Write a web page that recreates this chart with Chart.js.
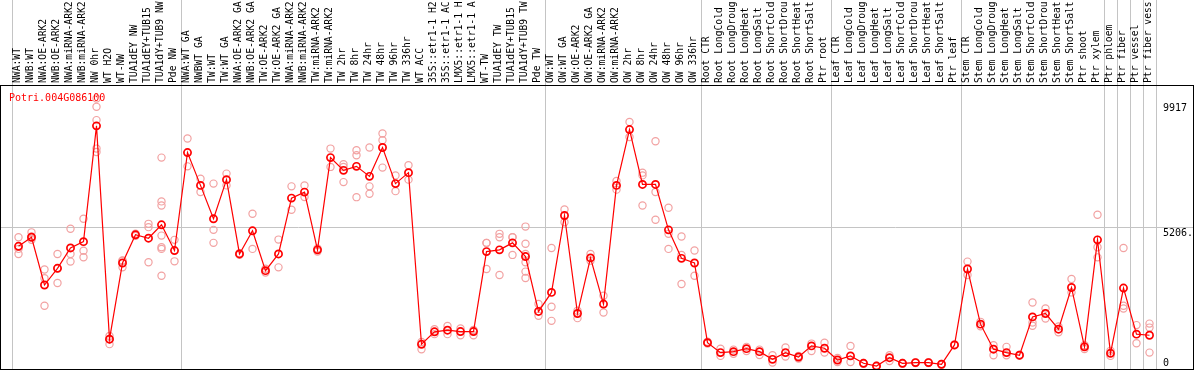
<!DOCTYPE html>
<html>
<head>
<meta charset="utf-8">
<script src="https://cdn.jsdelivr.net/npm/chart.js@4.4.0/dist/chart.umd.min.js"></script>
<style>
	html, body { margin: 0; padding: 0; background: #fff; }
	canvas { display: block; }
</style>
</head>
<body>
<canvas id="myChart" width="1194" height="370"></canvas>
<script>
const geneName = "Potri.004G086100";

const sampleLabels = [
	"NWA:WT", "NWB:WT", "NWA:OE-ARK2", "NWB:OE-ARK2", "NWA:miRNA-ARK2", "NWB:miRNA-ARK2",
	"NW 0hr", "WT H2O", "WT-NW", "TUA1dEY NW", "TUA1dEY+TUB15", "TUA1dY+TUB9 NW", "Pde NW",
	"NWA:WT GA", "NWBWT GA", "TW:WT", "TW:WT GA", "NWA:OE-ARK2 GA", "NWB:OE-ARK2 GA",
	"TW:OE-ARK2", "TW:OE-ARK2 GA", "NWA:miRNA-ARK2", "NWB:miRNA-ARK2", "TW:miRNA-ARK2",
	"TW:miRNA-ARK2", "TW 2hr", "TW 8hr", "TW 24hr", "TW 48hr", "TW 96hr", "TW 336hr",
	"WT ACC", "35S::etr1-1 H2", "35S::etr1-1 AC", "LMX5::etr1-1 H", "LMX5::etr1-1 A",
	"WT-TW", "TUA1dEY TW", "TUA1dEY+TUB15", "TUA1dY+TUB9 TW", "Pde TW",
	"OW:WT", "OW:WT GA", "OW:OE-ARK2", "OW:OE-ARK2 GA", "OW:miRNA-ARK2", "OW:miRNA-ARK2",
	"OW 2hr", "OW 8hr", "OW 24hr", "OW 48hr", "OW 96hr", "OW 336hr",
	"Root CTR", "Root LongCold", "Root LongDroug", "Root LongHeat", "Root LongSalt",
	"Root ShortCold", "Root ShortDrou", "Root ShortHeat", "Root ShortSalt", "Ptr root",
	"Leaf CTR", "Leaf LongCold", "Leaf LongDroug", "Leaf LongHeat", "Leaf LongSalt",
	"Leaf ShortCold", "Leaf ShortDrou", "Leaf ShortHeat", "Leaf ShortSalt", "Ptr leaf",
	"Stem CTR", "Stem LongCold", "Stem LongDroug", "Stem LongHeat", "Stem LongSalt",
	"Stem ShortCold", "Stem ShortDrou", "Stem ShortHeat", "Stem ShortSalt", "Ptr shoot",
	"Ptr xylem", "Ptr phloem", "Ptr fiber", "Ptr vessel", "Ptr fiber vess",
];

const meanValues = [
	4520, 4850, 3105, 3715, 4460, 4690, 8920, 1125, 3910, 4940, 4815, 5305, 4365,
	7945, 6745, 5525, 6955, 4240, 5085, 3630, 4240, 6280, 6500, 4390, 7760, 7295, 7440,
	7075, 8130, 6810, 7210, 940, 1395, 1455, 1405, 1405, 4325, 4390, 4645, 4145, 2140,
	2835, 5645, 2065, 4095, 2410, 6745, 8785, 6780, 6780, 5120, 4080, 3910,
	1000, 635, 670, 780, 670, 390, 635, 475, 880, 795,
	365, 515, 245, 145, 450, 245, 270, 270, 210, 915,
	3690, 1675, 760, 635, 540, 1940, 2065, 1490, 3015, 845,
	4755, 610, 2995, 1310, 1270,
];

const replicateValues = [
	[4850, 4425, 4240], [5030, 4880, 4760], [3670, 3350, 2350], [4240, 3720, 3180],
	[5160, 4240, 3960], [5525, 4360, 4120], [9917, 9615, 9130, 8090, 7965], [1245, 1125, 945],
	[4000, 3990, 3750], [4980, 4900], [5340, 5220, 3935],
	[7760, 6160, 6010, 4910, 4485, 4425, 3445], [4755, 3970],
	[8460, 7440], [6990, 6500], [6810, 5120, 4645], [7175, 6745], [4270, 4210], [5710, 4425],
	[3700, 3560], [4765, 3750], [6710, 5855], [6745, 6320], [4440, 4330], [8090, 7420],
	[7515, 7415, 6865], [8030, 7845, 6315], [8130, 6710, 6440], [8640, 8395, 7395],
	[7110, 6535], [7480, 6955], [1025, 760], [1490, 1310], [1610, 1310], [1515, 1270],
	[1460, 1270], [4645, 4640, 3690], [4975, 4850, 3470], [4850, 4850, 4205],
	[5240, 4610, 4240, 3935, 3595, 3360], [2410, 1980],
	[4460, 2310, 1795], [5865, 5400], [2165, 1895], [4240, 3995], [2715, 2100], [6905, 6590],
	[9065, 8515], [7210, 7110, 6010], [8360, 6500, 5490], [5930, 4975, 4425],
	[4875, 4205, 3140], [4365, 3445],
	[1030, 970], [780, 515], [745, 595], [845, 690], [745, 550], [540, 270], [820, 490],
	[515, 420], [965, 695], [1000, 635],
	[440, 290], [880, 295], [260, 230], [160, 130], [540, 330], [260, 225], [280, 255],
	[285, 255], [220, 195], [930, 900],
	[3960, 3470], [1760, 1600], [905, 540], [845, 540], [560, 520], [2465, 1735, 1615],
	[2245, 1880], [1590, 1380], [3325, 2835], [905, 770],
	[5670, 4485, 4115], [700, 515], [4460, 2345, 2245], [1640, 980], [1695, 1550, 635],
];

// gray separators between sample groups (in category units)
const groupBreaks = [-0.5, 12.5, 40.5, 52.5, 62.5, 72.5, 83.5, 84.5, 85.5, 86.5, 87.5];

const maxValue = 9917;
const axisMax = maxValue * 1.05;
const midValue = axisMax / 2;

const monoFont = "'DejaVu Sans Mono', monospace";

const frameAndText = {
	id: "frameAndText",
	afterDraw(chart) {
		const { ctx, chartArea: a } = chart;
		const y = chart.scales.y;
		ctx.save();
		ctx.strokeStyle = "#000";
		ctx.lineWidth = 1;
		ctx.strokeRect(a.left + 0.5, a.top + 0.5, a.right - a.left - 1, a.bottom - a.top - 1);

		ctx.font = "10px " + monoFont;
		ctx.textBaseline = "top";
		ctx.textAlign = "left";
		ctx.fillStyle = "#ff0000";
		ctx.fillText(geneName, a.left + 9, a.top + 8);

		ctx.beginPath();
		ctx.rect(a.left, a.top, a.right - a.left - 1, a.bottom - a.top);
		ctx.clip();
		ctx.fillStyle = "#000";
		const x = a.right - 31;
		ctx.fillText(String(maxValue), x, y.getPixelForValue(maxValue) + 5);
		ctx.fillText(midValue.toFixed(1), x, y.getPixelForValue(midValue) + 1);
		ctx.fillText("0", x, Math.min(y.getPixelForValue(0), a.bottom - 12));
		ctx.restore();
	},
};

const initChart = () => {
	const canvas = document.getElementById("myChart");

	const meanPoints = meanValues.map((v, i) => ({ x: i, y: v }));
	const replicatePoints = replicateValues.flatMap((reps, i) =>
		reps.map((v) => ({ x: i, y: v }))
	);

	return new Chart(canvas, {
		type: "scatter",
		data: {
			datasets: [
				{
					data: meanPoints,
					showLine: true,
					borderColor: "#ff0000",
					borderWidth: 1.2,
					tension: 0,
					pointRadius: 3.6,
					pointBorderWidth: 1.7,
					pointBorderColor: "#ff0000",
					pointBackgroundColor: "rgba(0,0,0,0)",
					order: 1,
				},
				{
					data: replicatePoints,
					showLine: false,
					pointRadius: 3.6,
					pointBorderWidth: 1.2,
					pointBorderColor: "#f2a2a2",
					pointBackgroundColor: "rgba(0,0,0,0)",
					order: 2,
				},
			],
		},
		options: {
			responsive: false,
			animation: false,
			devicePixelRatio: 1,
			layout: { padding: 0, autoPadding: false },
			plugins: {
				legend: { display: false },
				tooltip: { enabled: false },
			},
			scales: {
				x: {
					type: "linear",
					position: "top",
					min: -18.5 / 13,
					max: (1194 - 18.5) / 13,
					afterBuildTicks: (s) => {
						s.ticks = sampleLabels
							.map((_, i) => ({ value: i }))
							.concat(groupBreaks.map((v) => ({ value: v })))
							.sort((p, q) => p.value - q.value);
					},
					afterFit: (s) => {
						s.height = 85;
						s.paddingLeft = 0;
						s.paddingRight = 0;
					},
					ticks: {
						autoSkip: false,
						minRotation: 90,
						maxRotation: 90,
						padding: -83,
						labelOffset: 10.6,
						color: "#000",
						font: { family: monoFont, size: 9.7 },
						callback: (v) => (Number.isInteger(v) ? sampleLabels[v] : ""),
					},
					grid: {
						color: (c) =>
							c.tick && !Number.isInteger(c.tick.value) ? "#c4c4c4" : "rgba(0,0,0,0)",
						tickLength: 85,
						lineWidth: 1,
					},
					border: { display: false },
				},
				y: {
					position: "right",
					min: 0,
					max: axisMax,
					afterBuildTicks: (s) => {
						s.ticks = [{ value: midValue }];
					},
					afterFit: (s) => {
						s.width = 0;
					},
					ticks: { display: false },
					grid: { color: "#c4c4c4", drawTicks: false },
					border: { display: false },
				},
			},
		},
		plugins: [frameAndText],
	});
};

window.onload = () => {
	initChart();
};
</script>
</body>
</html>
